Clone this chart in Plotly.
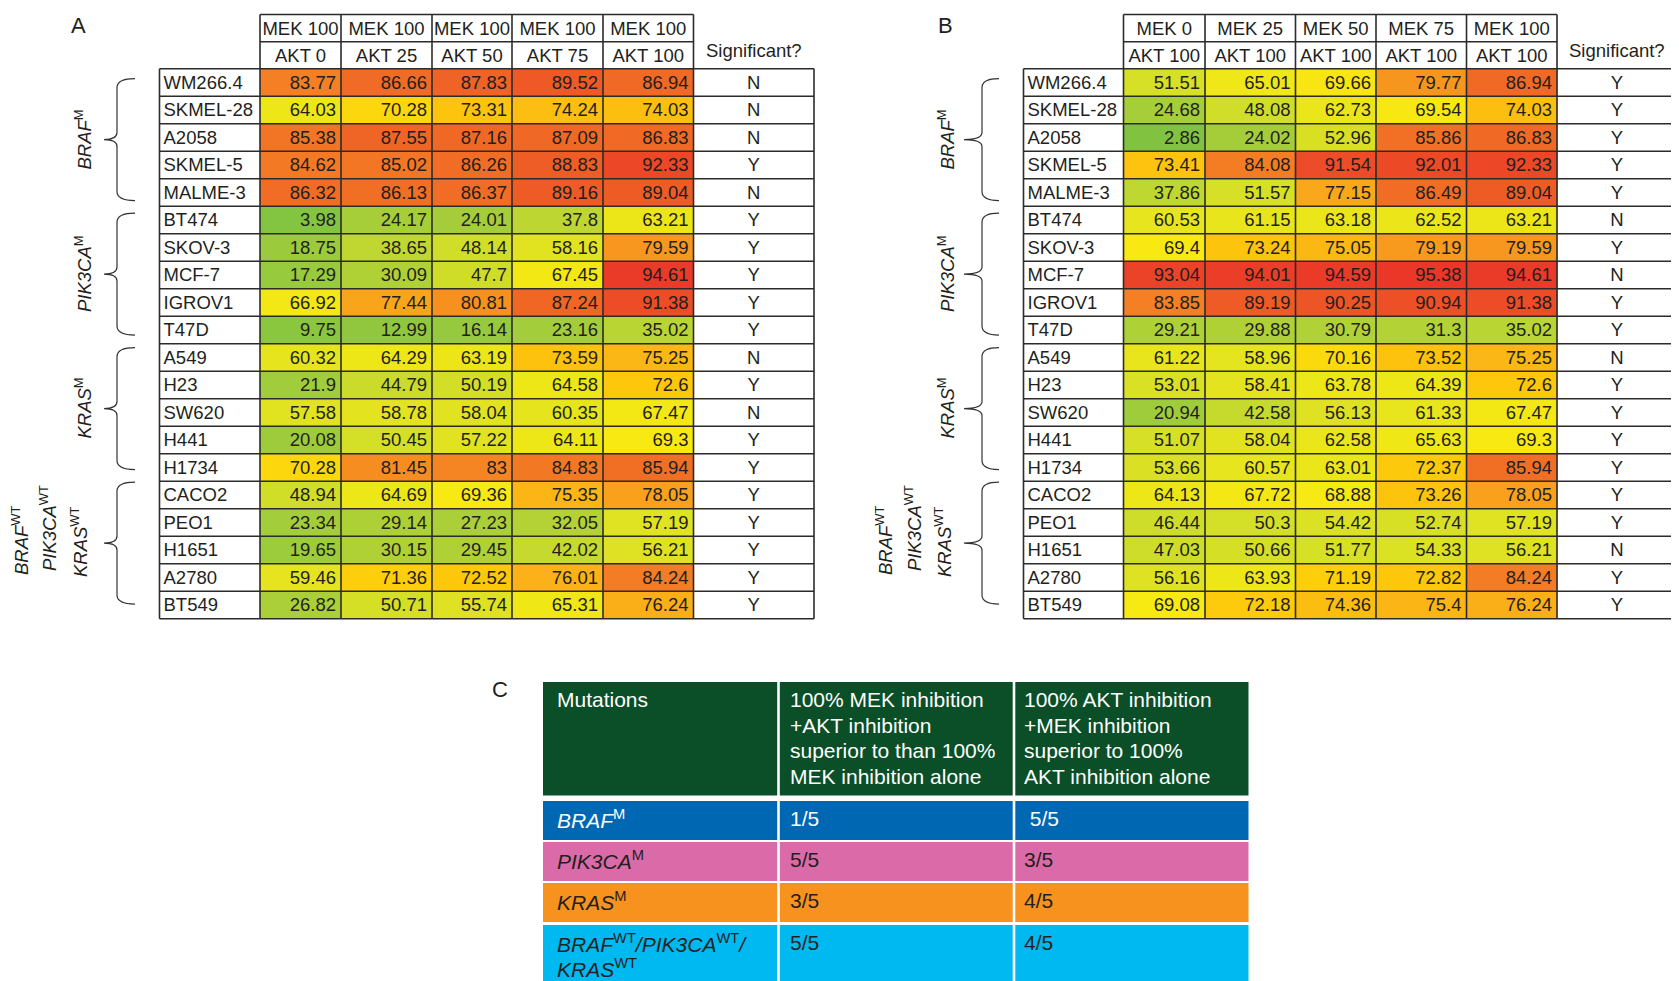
import plotly.graph_objects as go

# ---------------- DATA ----------------
cell_lines = ["WM266.4", "SKMEL-28", "A2058", "SKMEL-5", "MALME-3",
              "BT474", "SKOV-3", "MCF-7", "IGROV1", "T47D",
              "A549", "H23", "SW620", "H441", "H1734",
              "CACO2", "PEO1", "H1651", "A2780", "BT549"]

group_labels = ["<i>BRAF</i><sup>M</sup>", "<i>PIK3CA</i><sup>M</sup>", "<i>KRAS</i><sup>M</sup>"]
wt_labels = ["<i>BRAF</i><sup>WT</sup>", "<i>PIK3CA</i><sup>WT</sup>", "<i>KRAS</i><sup>WT</sup>"]

a_header_top = ["MEK 100", "MEK 100", "MEK 100", "MEK 100", "MEK 100"]
a_header_bottom = ["AKT 0", "AKT 25", "AKT 50", "AKT 75", "AKT 100"]
a_values = [
    [83.77, 86.66, 87.83, 89.52, 86.94],
    [64.03, 70.28, 73.31, 74.24, 74.03],
    [85.38, 87.55, 87.16, 87.09, 86.83],
    [84.62, 85.02, 86.26, 88.83, 92.33],
    [86.32, 86.13, 86.37, 89.16, 89.04],
    [3.98, 24.17, 24.01, 37.8, 63.21],
    [18.75, 38.65, 48.14, 58.16, 79.59],
    [17.29, 30.09, 47.7, 67.45, 94.61],
    [66.92, 77.44, 80.81, 87.24, 91.38],
    [9.75, 12.99, 16.14, 23.16, 35.02],
    [60.32, 64.29, 63.19, 73.59, 75.25],
    [21.9, 44.79, 50.19, 64.58, 72.6],
    [57.58, 58.78, 58.04, 60.35, 67.47],
    [20.08, 50.45, 57.22, 64.11, 69.3],
    [70.28, 81.45, 83, 84.83, 85.94],
    [48.94, 64.69, 69.36, 75.35, 78.05],
    [23.34, 29.14, 27.23, 32.05, 57.19],
    [19.65, 30.15, 29.45, 42.02, 56.21],
    [59.46, 71.36, 72.52, 76.01, 84.24],
    [26.82, 50.71, 55.74, 65.31, 76.24],
]
a_significant = ["N", "N", "N", "Y", "N", "Y", "Y", "Y", "Y", "Y",
                 "N", "Y", "N", "Y", "Y", "Y", "Y", "Y", "Y", "Y"]

b_header_top = ["MEK 0", "MEK 25", "MEK 50", "MEK 75", "MEK 100"]
b_header_bottom = ["AKT 100", "AKT 100", "AKT 100", "AKT 100", "AKT 100"]
b_values = [
    [51.51, 65.01, 69.66, 79.77, 86.94],
    [24.68, 48.08, 62.73, 69.54, 74.03],
    [2.86, 24.02, 52.96, 85.86, 86.83],
    [73.41, 84.08, 91.54, 92.01, 92.33],
    [37.86, 51.57, 77.15, 86.49, 89.04],
    [60.53, 61.15, 63.18, 62.52, 63.21],
    [69.4, 73.24, 75.05, 79.19, 79.59],
    [93.04, 94.01, 94.59, 95.38, 94.61],
    [83.85, 89.19, 90.25, 90.94, 91.38],
    [29.21, 29.88, 30.79, 31.3, 35.02],
    [61.22, 58.96, 70.16, 73.52, 75.25],
    [53.01, 58.41, 63.78, 64.39, 72.6],
    [20.94, 42.58, 56.13, 61.33, 67.47],
    [51.07, 58.04, 62.58, 65.63, 69.3],
    [53.66, 60.57, 63.01, 72.37, 85.94],
    [64.13, 67.72, 68.88, 73.26, 78.05],
    [46.44, 50.3, 54.42, 52.74, 57.19],
    [47.03, 50.66, 51.77, 54.33, 56.21],
    [56.16, 63.93, 71.19, 72.82, 84.24],
    [69.08, 72.18, 74.36, 75.4, 76.24],
]
b_significant = ["Y", "Y", "Y", "Y", "Y", "N", "Y", "N", "Y", "Y",
                 "N", "Y", "Y", "Y", "Y", "Y", "Y", "N", "Y", "Y"]

c_headers = ["Mutations",
             "100% MEK inhibition<br>+AKT inhibition<br>superior to than 100%<br>MEK inhibition alone",
             "100% AKT inhibition<br>+MEK inhibition<br>superior to 100%<br>AKT inhibition alone"]
c_mutations = ["<i>BRAF</i><sup>M</sup>", "<i>PIK3CA</i><sup>M</sup>", "<i>KRAS</i><sup>M</sup>",
               "<i>BRAF</i><sup>WT</sup><i>/PIK3CA</i><sup>WT</sup><i>/</i><br><i>KRAS</i><sup>WT</sup>"]
c_mek_plus_akt = ["1/5", "5/5", "3/5", "5/5"]
c_akt_plus_mek = [" 5/5", "3/5", "4/5", "4/5"]

# ---------------- STYLE / LAYOUT ----------------
W, H = 1679, 981
PAGE_OFFSET = 8  # default browser body margin
FONT = "Liberation Sans, Arial, Helvetica, sans-serif"
TXT = "#231f20"
GRID = "#2b2b2b"
FS = 18.5
TEXT_DY = 1.8
HDR_TOP, HDR_MID, ROW_TOP, ROW_H = 14.5, 41.7, 68.8, 27.5

colorscale = [[0.0, '#7dc242'], [0.1, '#8bc63f'], [0.2, '#9dcb3c'], [0.3, '#b0d136'],
              [0.4, '#c2d830'], [0.5, '#d3df27'], [0.58, '#e2e320'], [0.64, '#ede718'],
              [0.695, '#f8e912'], [0.705, '#fdd20b'], [0.73, '#fdc60c'], [0.755, '#fbb516'],
              [0.78, '#f9a11d'], [0.80, '#f7951f'], [0.83, '#f58523'], [0.86, '#f16f25'],
              [0.89, '#ee5c26'], [0.92, '#ec4927'], [0.95, '#ea3828'], [1.0, '#e72f29']]

panel_specs = {
    "A": dict(cols=[159.5, 260, 341, 432, 512, 603, 693.5, 814], brace=(104, 117, 135),
              label_x=83, wt_x=[20, 48, 79], letter=(78, 25)),
    "B": dict(cols=[1023.5, 1123.5, 1205, 1295.5, 1376, 1466.5, 1557, 1677], brace=(964, 982, 999),
              label_x=946, wt_x=[884, 913, 943], letter=(945, 25)),
}
brace_shift = [2, -1, -4, -7]
wt_label_shift = [-3, -15, -1]

fig = go.Figure()
shapes = []
annotations = []


def fmt(v):
    return f"{v:g}"


def line(x0, y0, x1, y1, w=1.6, color=GRID):
    shapes.append(dict(type="line", xref="x", yref="y", x0=x0, y0=y0, x1=x1, y1=y1,
                       line=dict(color=color, width=w)))


def brace_path(xt, xl, xe, yc, half):
    y0, y1, r, rm = yc - half, yc + half, 9, 7
    return (f"M {xe},{y0} Q {xl},{y0} {xl},{y0 + r} L {xl},{yc - rm} "
            f"Q {xl},{yc} {xt},{yc} Q {xl},{yc} {xl},{yc + rm} "
            f"L {xl},{y1 - r} Q {xl},{y1} {xe},{y1}")


def draw_panel(key, top_hdr, bot_hdr, values, sig):
    spec = panel_specs[key]
    cols = spec["cols"]
    nrow = len(cell_lines)
    row_edges = [ROW_TOP + i * ROW_H for i in range(nrow + 1)]
    row_mid = [ROW_TOP + (i + 0.5) * ROW_H + TEXT_DY for i in range(nrow)]

    fig.add_trace(go.Heatmap(x=cols[1:7], y=row_edges, z=values, colorscale=colorscale,
                             zmin=0, zmax=100, showscale=False, hoverinfo="skip"))
    xs, ys, ts = [], [], []
    for i, row in enumerate(values):
        for j, v in enumerate(row):
            xs.append(cols[j + 2] - 5)
            ys.append(row_mid[i])
            ts.append(fmt(v))
    fig.add_trace(go.Scatter(x=xs, y=ys, text=ts, mode="text", textposition="middle left",
                             textfont=dict(family=FONT, size=FS, color=TXT), hoverinfo="skip"))
    fig.add_trace(go.Scatter(x=[cols[0] + 4] * nrow, y=row_mid, text=cell_lines, mode="text",
                             textposition="middle right",
                             textfont=dict(family=FONT, size=FS, color=TXT), hoverinfo="skip"))
    fig.add_trace(go.Scatter(x=[(cols[6] + cols[7]) / 2] * nrow, y=row_mid, text=sig, mode="text",
                             textposition="middle center",
                             textfont=dict(family=FONT, size=FS, color=TXT), hoverinfo="skip"))
    hx = [(cols[j + 1] + cols[j + 2]) / 2 for j in range(5)]
    hy = [(HDR_TOP + HDR_MID) / 2 + TEXT_DY] * 5 + [(HDR_MID + ROW_TOP) / 2 + TEXT_DY] * 5
    fig.add_trace(go.Scatter(x=hx + hx, y=hy,
                             text=top_hdr + bot_hdr, mode="text", textposition="middle center",
                             textfont=dict(family=FONT, size=FS, color=TXT), hoverinfo="skip"))
    annotations.append(dict(x=(cols[6] + cols[7]) / 2, y=(HDR_MID + ROW_TOP) / 2 - 5, xref="x", yref="y",
                            text="Significant?", showarrow=False,
                            font=dict(family=FONT, size=FS, color=TXT)))
    for y in [HDR_TOP, HDR_MID]:
        line(cols[1], y, cols[6], y)
    for x in cols[1:7]:
        line(x, HDR_TOP, x, ROW_TOP)
    for y in row_edges:
        line(cols[0], y, cols[7], y)
    for x in cols:
        line(x, ROW_TOP, x, row_edges[-1])
    xt, xl, xe = spec["brace"]
    for g in range(4):
        yc = ROW_TOP + (g * 5 + 2.5) * ROW_H + brace_shift[g]
        shapes.append(dict(type="path", xref="x", yref="y", path=brace_path(xt, xl, xe, yc, 61),
                           line=dict(color="#333333", width=1.2)))
        if g < 3:
            annotations.append(dict(x=spec["label_x"], y=yc, xref="x", yref="y", text=group_labels[g],
                                    textangle=-90, showarrow=False, xanchor="center", yanchor="middle",
                                    font=dict(family=FONT, size=FS, color=TXT)))
        else:
            for k, lab in enumerate(wt_labels):
                annotations.append(dict(x=spec["wt_x"][k], y=yc + wt_label_shift[k], xref="x", yref="y",
                                        text=lab, textangle=-90, showarrow=False,
                                        xanchor="center", yanchor="middle",
                                        font=dict(family=FONT, size=FS, color=TXT)))
    lx, ly = spec["letter"]
    annotations.append(dict(x=lx, y=ly, xref="x", yref="y", text=key, showarrow=False,
                            font=dict(family=FONT, size=22, color=TXT)))


draw_panel("A", a_header_top, a_header_bottom, a_values, a_significant)
draw_panel("B", b_header_top, b_header_bottom, b_values, b_significant)

# ---------------- Panel C ----------------
c_col_edges = [543, 778.5, 1014, 1248.5]
c_pad = [12, 9, 8]
c_hdr_rows = (682, 795.6)
c_body_rows = [(801, 840), (842, 881), (883, 922), (925, 1000)]
c_hdr_color = "#0a4f27"
c_row_colors = ["#0068b3", "#db6ba8", "#f7921e", "#00b9f0"]
c_row_text = ["white", TXT, TXT, TXT]
GAP = 1.3
FSC = 21
C_LINE = 25.5
C_FIRST = 17.5


def cell_rect(j, y0, y1, color):
    x0 = c_col_edges[j] + (GAP if j > 0 else 0)
    x1 = c_col_edges[j + 1] - (GAP if j < 2 else 0)
    shapes.append(dict(type="rect", xref="x", yref="y", x0=x0, x1=x1, y0=y0, y1=y1,
                       fillcolor=color, line=dict(width=0)))


def cell_text(j, y0, text, color):
    for k, part in enumerate(text.split("<br>")):
        annotations.append(dict(x=c_col_edges[j] + c_pad[j], y=y0 + C_FIRST + k * C_LINE,
                                xref="x", yref="y", text=part,
                                showarrow=False, xanchor="left", yanchor="middle", align="left",
                                font=dict(family=FONT, size=FSC, color=color)))


for j in range(3):
    cell_rect(j, c_hdr_rows[0], c_hdr_rows[1], c_hdr_color)
    cell_text(j, c_hdr_rows[0], c_headers[j], "white")
for i, (y0, y1) in enumerate(c_body_rows):
    row_texts = [c_mutations[i], c_mek_plus_akt[i], c_akt_plus_mek[i]]
    for j in range(3):
        cell_rect(j, y0, y1, c_row_colors[i])
        cell_text(j, y0, row_texts[j], c_row_text[i])
annotations.append(dict(x=500, y=689, xref="x", yref="y", text="C", showarrow=False,
                        font=dict(family=FONT, size=22, color=TXT)))

fig.update_layout(
    width=W - PAGE_OFFSET, height=H - PAGE_OFFSET, margin=dict(l=0, r=0, t=0, b=0),
    paper_bgcolor="white", plot_bgcolor="white", showlegend=False,
    xaxis=dict(range=[PAGE_OFFSET, W], visible=False, fixedrange=True),
    yaxis=dict(range=[H, PAGE_OFFSET], visible=False, fixedrange=True),
    shapes=shapes, annotations=annotations,
)

fig.write_html("out.html", config={"displayModeBar": False})
